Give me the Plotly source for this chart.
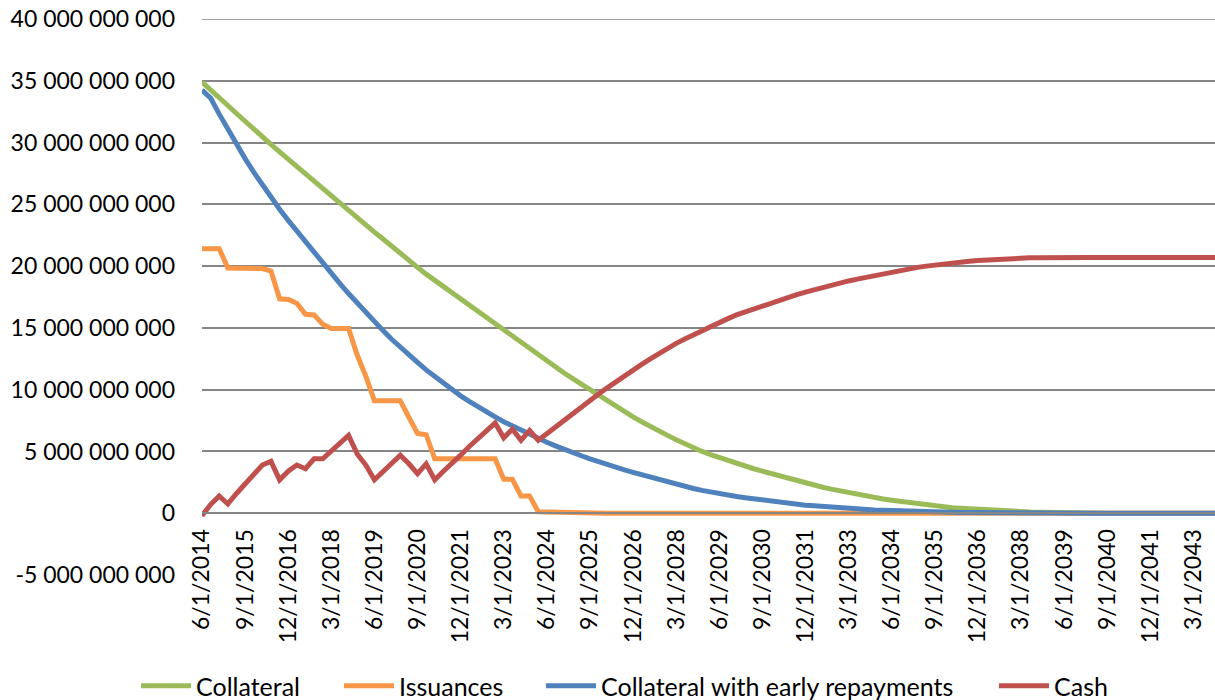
import plotly.graph_objects as go

# Quarterly categories: 6/1/2014 ... 3/1/2044
quarters = [f"{(5 + 3 * k) % 12 + 1}/1/{2014 + (5 + 3 * k) // 12}" for k in range(120)]

# Values in billions
collateral = [
    34.9, 34.3, 33.65, 33.0, 32.35, 31.7, 31.1, 30.45, 29.85, 29.25,
    28.65, 28.05, 27.45, 26.85, 26.25, 25.65, 25.05, 24.45, 23.9, 23.3,
    22.75, 22.2, 21.6, 21.05, 20.45, 19.9, 19.35, 18.85, 18.35, 17.8,
    17.3, 16.75, 16.25, 15.75, 15.25, 14.75, 14.25, 13.75, 13.25, 12.75,
    12.3, 11.8, 11.35, 10.9, 10.45, 10.0, 9.5, 9.05, 8.6, 8.2,
    7.8, 7.4, 7.0, 6.65, 6.3, 5.95, 5.6, 5.3, 5.0, 4.75,
    4.5, 4.25, 4.0, 3.8, 3.6, 3.4, 3.2, 3.0, 2.8, 2.6,
    2.45, 2.3, 2.1, 1.95, 1.8, 1.65, 1.5, 1.4, 1.3, 1.15,
    1.05, 0.95, 0.85, 0.75, 0.65, 0.55, 0.5, 0.45, 0.4, 0.35,
    0.3, 0.25, 0.2, 0.18, 0.15, 0.12, 0.1, 0.08, 0.06, 0.05,
    0.04, 0.03, 0.02, 0.01, 0, 0, 0, 0, 0, 0,
    0, 0, 0, 0, 0, 0, 0, 0, 0, 0,
]

issuances = [
    21.4, 21.4, 21.4, 19.85, 19.85, 19.85, 19.85, 19.8, 19.6, 17.35,
    17.3, 17.0, 16.1, 16.05, 15.3, 14.95, 14.95, 14.95, 12.8, 11.1,
    9.1, 9.1, 9.1, 9.1, 7.75, 6.45, 6.35, 4.4, 4.4, 4.4,
    4.4, 4.4, 4.4, 4.4, 4.4, 2.75, 2.75, 1.4, 1.4, 0.12,
    0.1, 0.08, 0, 0, 0, 0, 0, 0, 0, 0,
    0, 0, 0, 0, 0, 0, 0, 0, 0, 0,
    0, 0, 0, 0, 0, 0, 0, 0, 0, 0,
    0, 0, 0, 0, 0, 0, 0, 0, 0, 0,
    0, 0, 0, 0, 0, 0, 0, 0, 0, 0,
    0, 0, 0, 0, 0, 0, 0, 0, 0, 0,
    0, 0, 0, 0, 0, 0, 0, 0, 0, 0,
    0, 0, 0, 0, 0, 0, 0, 0, 0, 0,
]

collateral_early = [
    34.25, 33.6, 32.3, 31.05, 29.85, 28.7, 27.6, 26.55, 25.55, 24.6,
    23.7, 22.82, 21.95, 21.09, 20.24, 19.4, 18.58, 17.78, 17.0, 16.24,
    15.5, 14.78, 14.08, 13.42, 12.8, 12.2, 11.6, 11.05, 10.5, 10.0,
    9.5, 9.05, 8.6, 8.2, 7.8, 7.4, 7.05, 6.7, 6.35, 6.05,
    5.75, 5.45, 5.15, 4.9, 4.65, 4.4, 4.15, 3.95, 3.7, 3.5,
    3.3, 3.1, 2.9, 2.7, 2.5, 2.3, 2.15, 2.0, 1.85, 1.7,
    1.55, 1.45, 1.35, 1.25, 1.15, 1.05, 0.95, 0.88, 0.8, 0.72,
    0.65, 0.6, 0.54, 0.48, 0.43, 0.38, 0.34, 0.3, 0.27, 0.24,
    0.21, 0.18, 0.16, 0.14, 0.12, 0.1, 0.08, 0.07, 0.06, 0.05,
    0.04, 0.03, 0.02, 0.02, 0.01, 0.01, 0, 0, 0, 0,
    0, 0, 0, 0, 0, 0, 0, 0, 0, 0,
    0, 0, 0, 0, 0, 0, 0, 0, 0, 0,
]

cash = [
    -0.2, 0.7, 1.4, 0.75, 1.6, 2.4, 3.2, 3.9, 4.2, 2.7,
    3.4, 3.9, 3.6, 4.4, 4.4, 5.0, 5.7, 6.3, 4.8, 3.9,
    2.7, 3.4, 4.0, 4.7, 4.0, 3.2, 4.0, 2.7, 3.4, 4.0,
    4.7, 5.4, 6.0, 6.7, 7.3, 6.1, 6.8, 5.9, 6.7, 5.9,
    6.45, 7.0, 7.55, 8.1, 8.6, 9.1, 9.65, 10.15, 10.65, 11.15,
    11.6, 12.05, 12.5, 12.95, 13.35, 13.75, 14.1, 14.45, 14.8, 15.15,
    15.45, 15.75, 16.05, 16.3, 16.55, 16.8, 17.05, 17.3, 17.5, 17.7,
    17.9, 18.1, 18.3, 18.45, 18.6, 18.8, 18.95, 19.1, 19.25, 19.4,
    19.55, 19.7, 19.8, 19.9, 20.0, 20.1, 20.2, 20.3, 20.35, 20.4,
    20.45, 20.5, 20.55, 20.6, 20.62, 20.65, 20.67, 20.68, 20.7, 20.7,
    20.7, 20.7, 20.7, 20.7, 20.7, 20.7, 20.7, 20.7, 20.7, 20.7,
    20.7, 20.7, 20.7, 20.7, 20.7, 20.7, 20.7, 20.7, 20.7, 20.7,
]

y_ticks = [-5e9, 0, 5e9, 10e9, 15e9, 20e9, 25e9, 30e9, 35e9, 40e9]
y_tick_text = [f"{int(v):,}".replace(",", " ") for v in y_ticks]

series = [
    ("Collateral", collateral, "#9BBB59"),
    ("Issuances", issuances, "#F79646"),
    ("Collateral with early repayments", collateral_early, "#4F81BD"),
    ("Cash", cash, "#C0504D"),
]

FONT = "Lato"
GRID = "#868686"
W, H = 1215, 700
# left pixel of each legend box
legend_left_px = [136, 339, 541, 994]
legend_ids = ["legend", "legend2", "legend3", "legend4"]

fig = go.Figure()
for (name, vals, color), lid in zip(series, legend_ids):
    fig.add_trace(go.Scatter(
        x=quarters, y=[v * 1e9 for v in vals], name=name, mode="lines",
        line=dict(color=color, width=5), legend=lid,
    ))

layout_legends = {}
for lid, px in zip(legend_ids, legend_left_px):
    layout_legends[lid] = dict(
        xref="container", yref="container",
        x=px / W, y=(H - 686) / H, xanchor="left", yanchor="middle",
        font=dict(family=FONT, size=25, color="black"),
        bgcolor="rgba(0,0,0,0)", itemwidth=50,
    )

fig.update_layout(
    width=W, height=H,
    margin=dict(l=202, r=0, t=19, b=125, autoexpand=False),
    plot_bgcolor="white", paper_bgcolor="white",
    font=dict(family=FONT, size=23, color="black"),
    showlegend=True,
    **layout_legends,
)
# top gridline (at the very edge of the value range)
fig.add_shape(type="line", xref="paper", x0=0, x1=1, yref="y", y0=40e9, y1=40e9,
              line=dict(color=GRID, width=1.5), layer="below")
fig.update_xaxes(
    type="category", range=[0, 117.5],
    tickvals=quarters[::5], ticktext=quarters[::5],
    tickangle=-90, anchor="free", position=1 / 9,
    showgrid=False, showline=True, linecolor=GRID, linewidth=1.5,
    ticks="", tickfont=dict(family=FONT, size=23, color="black"),
    ticklabelstandoff=6, automargin=False,
)
fig.update_yaxes(
    range=[-5e9, 40e9], tickvals=y_ticks, ticktext=y_tick_text,
    showgrid=True, gridcolor=GRID, gridwidth=1.5,
    zeroline=False, showline=False,
    tickfont=dict(family=FONT, size=23, color="black"),
    ticklabelstandoff=26, automargin=False,
)

fig.write_html("out.html", post_script="document.body.style.margin='0';",
               config={"displayModeBar": False})
